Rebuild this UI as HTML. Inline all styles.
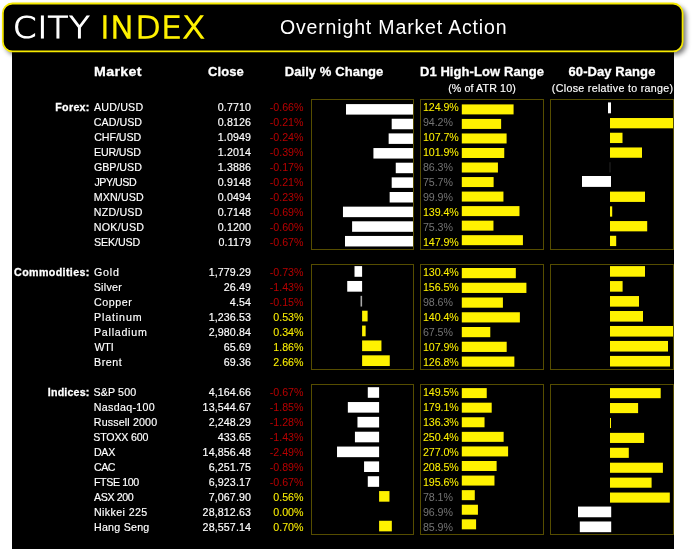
<!DOCTYPE html>
<html><head><meta charset="utf-8"><title>Overnight Market Action</title>
<style>
html,body{margin:0;padding:0;background:#fff;}
body{width:692px;height:554px;position:relative;overflow:hidden;font-family:"Liberation Sans",sans-serif;color:#fff;}
#panel{position:absolute;left:12px;top:40px;width:662px;height:509px;background:#000;}
#hdr{position:absolute;left:0;top:0;}
.t{position:absolute;white-space:nowrap;line-height:14px;height:14px;font-size:10.67px;-webkit-text-stroke-width:.16px;}
.b{font-weight:bold;-webkit-text-stroke-width:.3px;}
.r{text-align:right;}
.c{text-align:center;}
.h{font-size:13px;font-weight:bold;line-height:16px;height:16px;letter-spacing:.08px;-webkit-text-stroke-width:.3px;}
.neg{color:#b80000;-webkit-text-stroke-width:0;}
.pos{color:#fff200;-webkit-text-stroke-width:.05px;}
.g{color:#747474;-webkit-text-stroke-width:0;}
.box{position:absolute;border:1px solid #564d00;box-sizing:border-box;}
.bar{position:absolute;}
.y{background:#fff200;}
.w{background:#fff;}
.d{background:#262626;}
#logo{position:absolute;left:0;top:7.8px;height:40px;font-family:"DejaVu Sans","Liberation Sans",sans-serif;font-weight:200;font-size:30px;line-height:40px;white-space:nowrap;}
#logo span{position:absolute;top:0;display:block;transform:scaleX(1.11);transform-origin:0 0;}
#logo .w1{left:12.9px;color:#fff;-webkit-text-stroke:1.1px #fff;letter-spacing:.95px;}
#logo .w1 b{font-weight:inherit;margin:0 -0.5px 0 0.1px;}
#logo .w2{left:99.6px;color:#fff200;-webkit-text-stroke:1.3px #fff200;letter-spacing:.2px;}
#title{position:absolute;left:280px;top:15px;letter-spacing:.84px;font-size:19.5px;line-height:24px;white-space:nowrap;}
</style></head><body>
<div id="panel"></div>
<svg id="hdr" width="692" height="70" viewBox="0 0 692 70">
<defs><filter id="sh" x="-5%" y="-30%" width="110%" height="160%"><feGaussianBlur stdDeviation="2.5"/></filter></defs>
<rect x="5.6" y="6.2" width="680.4" height="48.6" rx="10" fill="#000" opacity=".55" filter="url(#sh)"/>
<rect x="2.85" y="3.5" width="679.75" height="47.9" rx="9.6" fill="#000" stroke="#f6e900" stroke-width="1.8"/>
</svg>
<div id="logo"><span class="w1">C<b>I</b>TY</span> <span class="w2">INDEX</span></div>
<div id="title">Overnight Market Action</div>

<div class="t h" style="left:94px;top:64px;letter-spacing:.35px;transform:scaleX(1.09);transform-origin:0 50%">Market</div>
<div class="t h c" style="left:176px;width:100px;top:64px">Close</div>
<div class="t h c" style="left:264px;width:140px;top:64px">Daily % Change</div>
<div class="t h c" style="left:402px;width:160px;top:64px">D1 High-Low Range</div>
<div class="t h c" style="left:532px;width:160px;top:64px">60-Day Range</div>
<div class="t c" style="left:402px;width:160px;top:80.5px;letter-spacing:.12px">(% of ATR 10)</div>
<div class="t c" style="left:532px;width:160px;top:80.5px;letter-spacing:.31px;margin-left:.6px">(Close relative to range)</div>
<div class="t b r" style="left:0;width:89.70px;top:100px;letter-spacing:0.3px">Forex:</div>
<div class="box" style="left:311px;top:99px;width:103px;height:151px"></div>
<div class="box" style="left:420px;top:99px;width:124px;height:151px"></div>
<div class="box" style="left:550px;top:99px;width:124px;height:151px"></div>
<div class="t" style="left:94.0px;top:100px;letter-spacing:0.19px">AUD/USD</div>
<div class="t r" style="left:150px;width:101.1px;top:100px;letter-spacing:.12px">0.7710</div>
<div class="t r neg" style="left:253.5px;width:50px;top:100px">-0.66%</div>
<div class="t pos" style="left:423px;top:100px;letter-spacing:-.08px">124.9%</div>
<div class="t" style="left:93.7px;top:115px;letter-spacing:0.07px">CAD/USD</div>
<div class="t r" style="left:150px;width:101.1px;top:115px;letter-spacing:.12px">0.8126</div>
<div class="t r neg" style="left:253.5px;width:50px;top:115px">-0.21%</div>
<div class="t g" style="left:423px;top:115px;letter-spacing:-.08px">94.2%</div>
<div class="t" style="left:94.2px;top:130px;letter-spacing:-0.05px">CHF/USD</div>
<div class="t r" style="left:150px;width:101.1px;top:130px;letter-spacing:.12px">1.0949</div>
<div class="t r neg" style="left:253.5px;width:50px;top:130px">-0.24%</div>
<div class="t pos" style="left:423px;top:130px;letter-spacing:-.08px">107.7%</div>
<div class="t" style="left:94.0px;top:145px;letter-spacing:-0.17px">EUR/USD</div>
<div class="t r" style="left:150px;width:101.1px;top:145px;letter-spacing:.12px">1.2014</div>
<div class="t r neg" style="left:253.5px;width:50px;top:145px">-0.39%</div>
<div class="t pos" style="left:423px;top:145px;letter-spacing:-.08px">101.9%</div>
<div class="t" style="left:93.9px;top:160px">GBP/USD</div>
<div class="t r" style="left:150px;width:101.1px;top:160px;letter-spacing:.12px">1.3886</div>
<div class="t r neg" style="left:253.5px;width:50px;top:160px">-0.17%</div>
<div class="t g" style="left:423px;top:160px;letter-spacing:-.08px">86.3%</div>
<div class="t" style="left:94.4px;top:175px;letter-spacing:-0.45px">JPY/USD</div>
<div class="t r" style="left:150px;width:101.1px;top:175px;letter-spacing:.12px">0.9148</div>
<div class="t r neg" style="left:253.5px;width:50px;top:175px">-0.21%</div>
<div class="t g" style="left:423px;top:175px;letter-spacing:-.08px">75.7%</div>
<div class="t" style="left:93.8px;top:190px;letter-spacing:0.13px">MXN/USD</div>
<div class="t r" style="left:150px;width:101.1px;top:190px;letter-spacing:.12px">0.0494</div>
<div class="t r neg" style="left:253.5px;width:50px;top:190px">-0.23%</div>
<div class="t g" style="left:423px;top:190px;letter-spacing:-.08px">99.9%</div>
<div class="t" style="left:93.8px;top:205px;letter-spacing:0.20px">NZD/USD</div>
<div class="t r" style="left:150px;width:101.1px;top:205px;letter-spacing:.12px">0.7148</div>
<div class="t r neg" style="left:253.5px;width:50px;top:205px">-0.69%</div>
<div class="t pos" style="left:423px;top:205px;letter-spacing:-.08px">139.4%</div>
<div class="t" style="left:93.8px;top:220px;letter-spacing:0.28px">NOK/USD</div>
<div class="t r" style="left:150px;width:101.1px;top:220px;letter-spacing:.12px">0.1200</div>
<div class="t r neg" style="left:253.5px;width:50px;top:220px">-0.60%</div>
<div class="t g" style="left:423px;top:220px;letter-spacing:-.08px">75.3%</div>
<div class="t" style="left:93.9px;top:235px;letter-spacing:-0.07px">SEK/USD</div>
<div class="t r" style="left:150px;width:101.1px;top:235px;letter-spacing:.12px">0.1179</div>
<div class="t r neg" style="left:253.5px;width:50px;top:235px">-0.67%</div>
<div class="t pos" style="left:423px;top:235px;letter-spacing:-.08px">147.9%</div>
<div class="t b r" style="left:0;width:89.79px;top:265px;letter-spacing:0.39px">Commodities:</div>
<div class="box" style="left:311px;top:264px;width:103px;height:106px"></div>
<div class="box" style="left:420px;top:264px;width:124px;height:106px"></div>
<div class="box" style="left:550px;top:264px;width:124px;height:106px"></div>
<div class="t" style="left:94.0px;top:265px;letter-spacing:0.80px">Gold</div>
<div class="t r" style="left:150px;width:101.1px;top:265px;letter-spacing:.12px">1,779.29</div>
<div class="t r neg" style="left:253.5px;width:50px;top:265px">-0.73%</div>
<div class="t pos" style="left:423px;top:265px;letter-spacing:-.08px">130.4%</div>
<div class="t" style="left:93.7px;top:280px;letter-spacing:0.30px">Silver</div>
<div class="t r" style="left:150px;width:101.1px;top:280px;letter-spacing:.12px">26.49</div>
<div class="t r neg" style="left:253.5px;width:50px;top:280px">-1.43%</div>
<div class="t pos" style="left:423px;top:280px;letter-spacing:-.08px">156.5%</div>
<div class="t" style="left:94.0px;top:295px;letter-spacing:0.55px">Copper</div>
<div class="t r" style="left:150px;width:101.1px;top:295px;letter-spacing:.12px">4.54</div>
<div class="t r neg" style="left:253.5px;width:50px;top:295px">-0.15%</div>
<div class="t g" style="left:423px;top:295px;letter-spacing:-.08px">98.6%</div>
<div class="t" style="left:94.0px;top:310px;letter-spacing:0.87px">Platinum</div>
<div class="t r" style="left:150px;width:101.1px;top:310px;letter-spacing:.12px">1,236.53</div>
<div class="t r pos" style="left:253.5px;width:50px;top:310px">0.53%</div>
<div class="t pos" style="left:423px;top:310px;letter-spacing:-.08px">140.4%</div>
<div class="t" style="left:94.0px;top:325px;letter-spacing:0.75px">Palladium</div>
<div class="t r" style="left:150px;width:101.1px;top:325px;letter-spacing:.12px">2,980.84</div>
<div class="t r pos" style="left:253.5px;width:50px;top:325px">0.34%</div>
<div class="t g" style="left:423px;top:325px;letter-spacing:-.08px">67.5%</div>
<div class="t" style="left:94.4px;top:340px;letter-spacing:-0.15px">WTI</div>
<div class="t r" style="left:150px;width:101.1px;top:340px;letter-spacing:.12px">65.69</div>
<div class="t r pos" style="left:253.5px;width:50px;top:340px">1.86%</div>
<div class="t pos" style="left:423px;top:340px;letter-spacing:-.08px">107.9%</div>
<div class="t" style="left:94.0px;top:355px;letter-spacing:0.56px">Brent</div>
<div class="t r" style="left:150px;width:101.1px;top:355px;letter-spacing:.12px">69.36</div>
<div class="t r pos" style="left:253.5px;width:50px;top:355px">2.66%</div>
<div class="t pos" style="left:423px;top:355px;letter-spacing:-.08px">126.8%</div>
<div class="t b r" style="left:0;width:89.59px;top:385px;letter-spacing:0.19px">Indices:</div>
<div class="box" style="left:311px;top:384px;width:103px;height:151px"></div>
<div class="box" style="left:420px;top:384px;width:124px;height:151px"></div>
<div class="box" style="left:550px;top:384px;width:124px;height:151px"></div>
<div class="t" style="left:93.4px;top:385px;letter-spacing:0.15px">S&amp;P 500</div>
<div class="t r" style="left:150px;width:101.1px;top:385px;letter-spacing:.12px">4,164.66</div>
<div class="t r neg" style="left:253.5px;width:50px;top:385px">-0.67%</div>
<div class="t pos" style="left:423px;top:385px;letter-spacing:-.08px">149.5%</div>
<div class="t" style="left:93.8px;top:400px;letter-spacing:0.31px">Nasdaq-100</div>
<div class="t r" style="left:150px;width:101.1px;top:400px;letter-spacing:.12px">13,544.67</div>
<div class="t r neg" style="left:253.5px;width:50px;top:400px">-1.85%</div>
<div class="t pos" style="left:423px;top:400px;letter-spacing:-.08px">179.1%</div>
<div class="t" style="left:93.8px;top:415px;letter-spacing:0.15px">Russell 2000</div>
<div class="t r" style="left:150px;width:101.1px;top:415px;letter-spacing:.12px">2,248.29</div>
<div class="t r neg" style="left:253.5px;width:50px;top:415px">-1.28%</div>
<div class="t pos" style="left:423px;top:415px;letter-spacing:-.08px">136.3%</div>
<div class="t" style="left:93.3px;top:430px;letter-spacing:-0.20px">STOXX 600</div>
<div class="t r" style="left:150px;width:101.1px;top:430px;letter-spacing:.12px">433.65</div>
<div class="t r neg" style="left:253.5px;width:50px;top:430px">-1.43%</div>
<div class="t pos" style="left:423px;top:430px;letter-spacing:-.08px">250.4%</div>
<div class="t" style="left:94.0px;top:445px;letter-spacing:-0.33px">DAX</div>
<div class="t r" style="left:150px;width:101.1px;top:445px;letter-spacing:.12px">14,856.48</div>
<div class="t r neg" style="left:253.5px;width:50px;top:445px">-2.49%</div>
<div class="t pos" style="left:423px;top:445px;letter-spacing:-.08px">277.0%</div>
<div class="t" style="left:93.9px;top:460px;letter-spacing:-0.45px">CAC</div>
<div class="t r" style="left:150px;width:101.1px;top:460px;letter-spacing:.12px">6,251.75</div>
<div class="t r neg" style="left:253.5px;width:50px;top:460px">-0.89%</div>
<div class="t pos" style="left:423px;top:460px;letter-spacing:-.08px">208.5%</div>
<div class="t" style="left:94.0px;top:475px;letter-spacing:-0.41px">FTSE 100</div>
<div class="t r" style="left:150px;width:101.1px;top:475px;letter-spacing:.12px">6,923.17</div>
<div class="t r neg" style="left:253.5px;width:50px;top:475px">-0.67%</div>
<div class="t pos" style="left:423px;top:475px;letter-spacing:-.08px">195.6%</div>
<div class="t" style="left:94.0px;top:490px;letter-spacing:-0.40px">ASX 200</div>
<div class="t r" style="left:150px;width:101.1px;top:490px;letter-spacing:.12px">7,067.90</div>
<div class="t r pos" style="left:253.5px;width:50px;top:490px">0.56%</div>
<div class="t g" style="left:423px;top:490px;letter-spacing:-.08px">78.1%</div>
<div class="t" style="left:94.0px;top:505px;letter-spacing:0.38px">Nikkei 225</div>
<div class="t r" style="left:150px;width:101.1px;top:505px;letter-spacing:.12px">28,812.63</div>
<div class="t r pos" style="left:253.5px;width:50px;top:505px">0.00%</div>
<div class="t g" style="left:423px;top:505px;letter-spacing:-.08px">96.9%</div>
<div class="t" style="left:94.0px;top:520px;letter-spacing:0.24px">Hang Seng</div>
<div class="t r" style="left:150px;width:101.1px;top:520px;letter-spacing:.12px">28,557.14</div>
<div class="t r pos" style="left:253.5px;width:50px;top:520px">0.70%</div>
<div class="t g" style="left:423px;top:520px;letter-spacing:-.08px">85.9%</div>
<svg id="bars" width="692" height="554" viewBox="0 0 692 554" style="position:absolute;left:0;top:0">
<rect x="346.01" y="104.10" width="66.99" height="10.50" fill="#fff"/>
<rect x="461.80" y="104.40" width="51.78" height="10.00" fill="#fff200"/>
<rect x="608.00" y="102.40" width="3.00" height="10.90" fill="#fff"/>
<rect x="391.69" y="118.75" width="21.31" height="10.50" fill="#fff"/>
<rect x="461.80" y="118.93" width="39.33" height="10.00" fill="#fff200"/>
<rect x="610.00" y="118.02" width="63.00" height="10.30" fill="#fff200"/>
<rect x="388.64" y="133.40" width="24.36" height="10.50" fill="#fff"/>
<rect x="461.80" y="133.46" width="44.80" height="10.00" fill="#fff200"/>
<rect x="610.00" y="132.74" width="12.50" height="10.30" fill="#fff200"/>
<rect x="373.42" y="148.05" width="39.58" height="10.50" fill="#fff"/>
<rect x="461.80" y="147.99" width="42.45" height="10.00" fill="#fff200"/>
<rect x="610.00" y="147.46" width="32.00" height="10.30" fill="#fff200"/>
<rect x="395.75" y="162.70" width="17.25" height="10.50" fill="#fff"/>
<rect x="461.80" y="162.52" width="36.12" height="10.00" fill="#fff200"/>
<rect x="609.50" y="162.18" width="1.00" height="10.30" fill="#262626"/>
<rect x="391.69" y="177.35" width="21.31" height="10.50" fill="#fff"/>
<rect x="461.80" y="177.05" width="31.82" height="10.00" fill="#fff200"/>
<rect x="582.00" y="176.00" width="29.00" height="10.90" fill="#fff"/>
<rect x="389.65" y="192.00" width="23.35" height="10.50" fill="#fff"/>
<rect x="461.80" y="191.58" width="41.64" height="10.00" fill="#fff200"/>
<rect x="610.00" y="191.62" width="35.00" height="10.30" fill="#fff200"/>
<rect x="342.97" y="206.65" width="70.03" height="10.50" fill="#fff"/>
<rect x="461.80" y="206.11" width="57.67" height="10.00" fill="#fff200"/>
<rect x="610.00" y="206.34" width="2.20" height="10.30" fill="#fff200"/>
<rect x="352.10" y="221.30" width="60.90" height="10.50" fill="#fff"/>
<rect x="461.80" y="220.64" width="31.66" height="10.00" fill="#fff200"/>
<rect x="610.00" y="221.06" width="37.20" height="10.30" fill="#fff200"/>
<rect x="345.00" y="235.95" width="68.00" height="10.50" fill="#fff"/>
<rect x="461.80" y="235.17" width="61.12" height="10.00" fill="#fff200"/>
<rect x="610.00" y="235.78" width="6.20" height="10.30" fill="#fff200"/>
<rect x="354.51" y="266.10" width="7.59" height="10.70" fill="#fff"/>
<rect x="461.80" y="268.00" width="54.02" height="10.20" fill="#fff200"/>
<rect x="610.00" y="266.10" width="35.00" height="10.60" fill="#fff200"/>
<rect x="347.23" y="280.97" width="14.87" height="10.70" fill="#fff"/>
<rect x="461.80" y="282.75" width="64.61" height="10.20" fill="#fff200"/>
<rect x="610.00" y="281.07" width="12.60" height="10.60" fill="#fff200"/>
<rect x="360.54" y="295.84" width="1.56" height="10.70" fill="#aaa"/>
<rect x="461.80" y="297.50" width="41.11" height="10.20" fill="#fff200"/>
<rect x="610.00" y="296.04" width="29.00" height="10.60" fill="#fff200"/>
<rect x="362.10" y="310.71" width="5.51" height="10.70" fill="#fff200"/>
<rect x="461.80" y="312.25" width="58.07" height="10.20" fill="#fff200"/>
<rect x="610.00" y="311.01" width="33.00" height="10.60" fill="#fff200"/>
<rect x="362.10" y="325.58" width="3.54" height="10.70" fill="#fff200"/>
<rect x="461.80" y="327.00" width="28.49" height="10.20" fill="#fff200"/>
<rect x="610.00" y="325.98" width="63.00" height="10.60" fill="#fff200"/>
<rect x="362.10" y="340.45" width="19.34" height="10.70" fill="#fff200"/>
<rect x="461.80" y="341.75" width="44.89" height="10.20" fill="#fff200"/>
<rect x="610.00" y="340.95" width="58.00" height="10.60" fill="#fff200"/>
<rect x="362.10" y="355.32" width="27.66" height="10.70" fill="#fff200"/>
<rect x="461.80" y="356.50" width="52.56" height="10.20" fill="#fff200"/>
<rect x="610.00" y="355.92" width="60.00" height="10.60" fill="#fff200"/>
<rect x="367.78" y="387.20" width="11.32" height="10.60" fill="#fff"/>
<rect x="461.80" y="388.10" width="24.94" height="10.00" fill="#fff200"/>
<rect x="610.00" y="388.10" width="50.70" height="10.10" fill="#fff200"/>
<rect x="347.84" y="402.04" width="31.26" height="10.60" fill="#fff"/>
<rect x="461.80" y="402.68" width="29.90" height="10.00" fill="#fff200"/>
<rect x="610.00" y="403.02" width="28.10" height="10.10" fill="#fff200"/>
<rect x="357.47" y="416.88" width="21.63" height="10.60" fill="#fff"/>
<rect x="461.80" y="417.26" width="22.73" height="10.00" fill="#fff200"/>
<rect x="610.00" y="417.94" width="1.00" height="10.10" fill="#fff200"/>
<rect x="354.93" y="431.72" width="24.17" height="10.60" fill="#fff"/>
<rect x="461.80" y="431.84" width="41.84" height="10.00" fill="#fff200"/>
<rect x="610.00" y="432.86" width="34.10" height="10.10" fill="#fff200"/>
<rect x="337.02" y="446.56" width="42.08" height="10.60" fill="#fff"/>
<rect x="461.80" y="446.42" width="46.30" height="10.00" fill="#fff200"/>
<rect x="610.00" y="447.78" width="18.80" height="10.10" fill="#fff200"/>
<rect x="364.06" y="461.40" width="15.04" height="10.60" fill="#fff"/>
<rect x="461.80" y="461.00" width="34.82" height="10.00" fill="#fff200"/>
<rect x="610.00" y="462.70" width="52.90" height="10.10" fill="#fff200"/>
<rect x="367.78" y="476.24" width="11.32" height="10.60" fill="#fff"/>
<rect x="461.80" y="475.58" width="32.66" height="10.00" fill="#fff200"/>
<rect x="610.00" y="477.62" width="41.60" height="10.10" fill="#fff200"/>
<rect x="379.10" y="491.08" width="10.36" height="10.60" fill="#fff200"/>
<rect x="461.80" y="490.16" width="12.98" height="10.00" fill="#fff200"/>
<rect x="610.00" y="492.54" width="59.80" height="10.10" fill="#fff200"/>
<rect x="461.80" y="504.74" width="16.13" height="10.00" fill="#fff200"/>
<rect x="578.00" y="506.56" width="33.20" height="10.70" fill="#fff"/>
<rect x="379.10" y="520.76" width="12.73" height="10.60" fill="#fff200"/>
<rect x="461.80" y="519.32" width="14.29" height="10.00" fill="#fff200"/>
<rect x="579.80" y="521.48" width="31.40" height="10.70" fill="#fff"/>
</svg>
</body></html>
